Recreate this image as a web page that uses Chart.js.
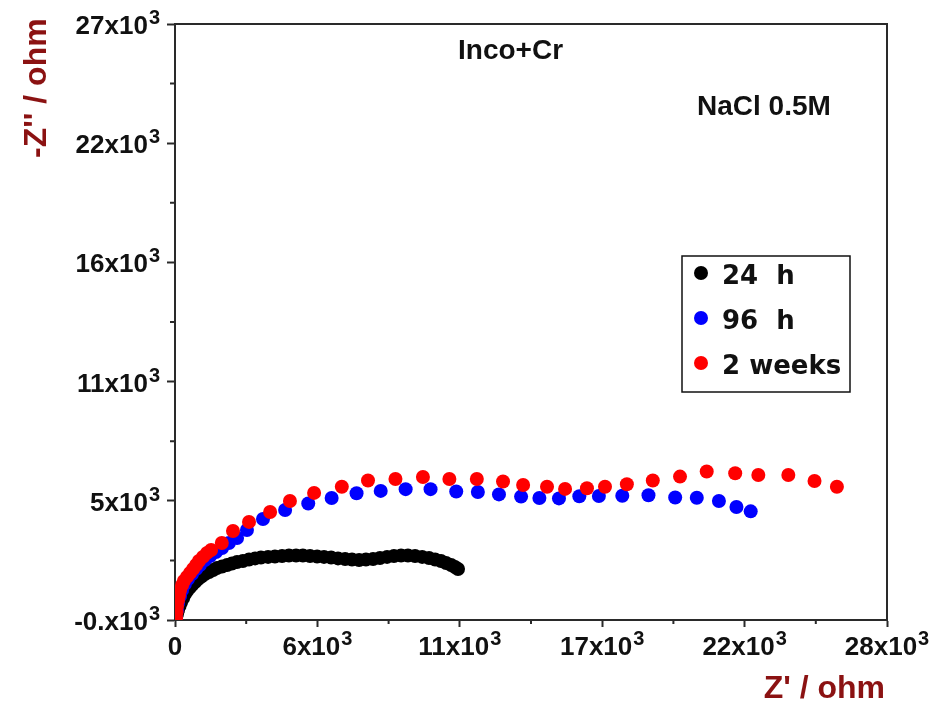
<!DOCTYPE html>
<html>
<head>
<meta charset="utf-8">
<script src="https://cdn.jsdelivr.net/npm/chart.js@4.4.1/dist/chart.umd.min.js"></script>
<style>
  html,body{margin:0;padding:0;background:#fff;}
  #wrap{width:938px;height:701px;}
</style>
</head>
<body>
<div id="wrap"><canvas id="c" width="938" height="701"></canvas></div>
<script>
// ---- data (Z' in ohm, -Z'' in ohm) ----
const seriesNames = ['24  h', '96  h', '2 weeks'];
const seriesColors = ['#000000', '#0000ff', '#ff0000'];

const x24h = [40,80,120,180,240,320,390,470,570,670,790,910,1040,1180,1340,1500,1650,1850,2050,2240,2440,2670,2910,3150,3380,3660,3930,4210,4480,4760,5030,5310,5590,5860,6140,6410,6690,6960,7240,7510,7790,8060,8340,8610,8890,9160,9440,9720,9990,10230,10460,10660,10860,11010,11130];
const y24h = [0,170,360,540,720,900,1080,1220,1360,1490,1630,1760,1880,1990,2080,2170,2260,2330,2400,2470,2540,2580,2650,2700,2740,2770,2790,2810,2830,2830,2830,2810,2790,2770,2740,2700,2670,2650,2630,2650,2670,2720,2770,2810,2830,2830,2810,2770,2720,2650,2580,2490,2400,2310,2220];

const x96h = [40,80,120,200,280,390,510,670,830,980,1180,1380,1610,1850,2120,2440,2830,3460,4330,5240,6160,7140,8090,9070,10050,11060,11910,12740,13610,14330,15100,15900,16670,17590,18620,19670,20520,21390,22080,22640];
const y96h = [0,360,670,990,1260,1540,1760,1990,2220,2400,2630,2810,2990,3170,3400,3630,3990,4490,4900,5200,5450,5660,5770,5850,5850,5740,5720,5610,5510,5450,5430,5530,5540,5550,5570,5470,5460,5310,5040,4840];

const x2w = [40,60,80,120,160,200,280,350,470,590,710,830,940,1100,1260,1420,1840,2280,2910,3740,4520,5470,6560,7590,8670,9750,10790,11870,12900,13690,14630,15340,16200,16910,17770,18790,19860,20910,22030,22940,24120,25150,26030];
const y2w = [0,260,540,810,1040,1260,1490,1670,1860,2040,2220,2400,2580,2770,2950,3080,3400,3950,4360,4810,5310,5680,5960,6240,6310,6400,6310,6310,6200,6040,5960,5860,5890,5960,6070,6240,6420,6650,6570,6490,6490,6220,5960];

const xTickValues = [0, 5600, 11200, 16800, 22400, 28000];
const xTickLabels = ['0', '6x10^3', '11x10^3', '17x10^3', '22x10^3', '28x10^3'];
const yTickValues = [-100, 5320, 10740, 16160, 21580, 27000];
const yTickLabels = ['-0.x10^3', '5x10^3', '11x10^3', '16x10^3', '22x10^3', '27x10^3'];

const xTitle = "Z' / ohm";
const yTitle = "-Z'' / ohm";
const note1 = 'Inco+Cr';
const note2 = 'NaCl 0.5M';

const pts = (xs, ys) => xs.map((v, i) => ({x: v, y: ys[i]}));

const AXIS = '#2a2a2a';
const TITLE_RED = '#8b1212';
const FONT = '"Liberation Sans", Arial, sans-serif';

function splitLabel(s){
  const i = s.indexOf('^');
  return i < 0 ? [s, ''] : [s.slice(0, i), s.slice(i + 1)];
}

const deco = {
  id: 'deco',
  afterDraw(chart){
    const {ctx, chartArea: a, scales: {x, y}} = chart;
    ctx.save();
    // frame
    ctx.strokeStyle = AXIS; ctx.lineWidth = 2;
    ctx.beginPath();
    ctx.moveTo(a.left - 1, a.top); ctx.lineTo(a.right, a.top); ctx.lineTo(a.right, a.bottom);
    ctx.stroke();
    // minor ticks
    ctx.lineWidth = 2;
    ctx.beginPath();
    for (let i = 0; i < xTickValues.length - 1; i++){
      const px = x.getPixelForValue((xTickValues[i] + xTickValues[i+1]) / 2);
      ctx.moveTo(px, a.bottom); ctx.lineTo(px, a.bottom + 4);
    }
    for (let i = 0; i < yTickValues.length - 1; i++){
      const py = y.getPixelForValue((yTickValues[i] + yTickValues[i+1]) / 2);
      ctx.moveTo(a.left, py); ctx.lineTo(a.left - 5, py);
    }
    ctx.stroke();

    // tick labels with superscripts
    const baseFont = 'bold 26px ' + FONT, expFont = 'bold 20px ' + FONT;
    ctx.fillStyle = '#111';
    ctx.textBaseline = 'alphabetic';
    ctx.textAlign = 'left';
    function drawLbl(txt, left, baseline){
      const [b, e] = splitLabel(txt);
      ctx.font = baseFont;
      ctx.fillText(b, left, baseline);
      const wb = ctx.measureText(b).width;
      if (e){ ctx.font = expFont; ctx.fillText(e, left + wb + 1, baseline - 10); }
    }
    function width(txt){
      const [b, e] = splitLabel(txt);
      ctx.font = baseFont; let w = ctx.measureText(b).width;
      if (e){ ctx.font = expFont; w += ctx.measureText(e).width + 1; }
      return w;
    }
    xTickValues.forEach((v, i) => {
      const px = x.getPixelForValue(v);
      const w = width(xTickLabels[i]);
      drawLbl(xTickLabels[i], px - w / 2, a.bottom + 35);
    });
    yTickValues.forEach((v, i) => {
      const py = y.getPixelForValue(v);
      const w = width(yTickLabels[i]);
      drawLbl(yTickLabels[i], a.left - 15 - w, py + 10);
    });

    // axis titles
    ctx.fillStyle = TITLE_RED;
    ctx.font = 'bold 32px ' + FONT;
    ctx.textAlign = 'right';
    ctx.fillText(xTitle, a.right - 2, 698);
    ctx.save();
    ctx.translate(46, 158);
    ctx.rotate(-Math.PI / 2);
    ctx.textAlign = 'left';
    ctx.fillText(yTitle, 0, 0);
    ctx.restore();

    // notes
    ctx.fillStyle = '#111';
    ctx.font = 'bold 28px ' + FONT;
    ctx.textAlign = 'left';
    ctx.fillText(note1, 458, 59);
    ctx.fillText(note2, 697, 115);

    // legend
    const lx = 682, ly = 256, lw = 168, lh = 136;
    ctx.strokeStyle = '#111'; ctx.lineWidth = 1.5;
    ctx.strokeRect(lx, ly, lw, lh);
    ctx.font = 'bold 26px "DejaVu Sans", ' + FONT;
    seriesNames.forEach((n, i) => {
      const cy = 273 + i * 45;
      ctx.fillStyle = seriesColors[i];
      ctx.beginPath(); ctx.arc(701, cy, 7, 0, Math.PI * 2); ctx.fill();
      ctx.fillStyle = '#111';
      ctx.fillText(n, 722, cy + 11);
    });
    ctx.restore();
  }
};

const ds = (name, xs, ys, color, order, r) => ({
  label: name, data: pts(xs, ys), showLine: false,
  backgroundColor: color, borderColor: color, borderWidth: 0,
  pointRadius: r, pointHoverRadius: r, pointBorderWidth: 0, order
});

new Chart(document.getElementById('c'), {
  type: 'scatter',
  data: {
    datasets: [
      ds(seriesNames[0], x24h, y24h, seriesColors[0], 3, 7),
      ds(seriesNames[1], x96h, y96h, seriesColors[1], 2, 7),
      ds(seriesNames[2], x2w, y2w, seriesColors[2], 1, 7)
    ]
  },
  options: {
    responsive: false,
    animation: false,
    events: [],
    layout: {padding: {left: 0, top: 24, right: 51, bottom: 0}},
    plugins: {legend: {display: false}, tooltip: {enabled: false}, title: {display: false}},
    scales: {
      x: {
        type: 'linear', min: xTickValues[0], max: xTickValues[xTickValues.length - 1],
        afterBuildTicks: s => { s.ticks = xTickValues.map(v => ({value: v})); },
        afterFit: s => { s.height = 81; },
        ticks: {display: false},
        grid: {display: true, drawOnChartArea: false, drawTicks: true, tickLength: 7, color: AXIS, tickColor: AXIS, tickWidth: 2},
        border: {display: true, color: AXIS, width: 2}
      },
      y: {
        type: 'linear', min: yTickValues[0], max: yTickValues[yTickValues.length - 1],
        afterBuildTicks: s => { s.ticks = yTickValues.map(v => ({value: v})); },
        afterFit: s => { s.width = 175; },
        ticks: {display: false},
        grid: {display: true, drawOnChartArea: false, drawTicks: true, tickLength: 8, color: AXIS, tickColor: AXIS, tickWidth: 2},
        border: {display: true, color: AXIS, width: 2}
      }
    }
  },
  plugins: [deco]
});
</script>
</body>
</html>
